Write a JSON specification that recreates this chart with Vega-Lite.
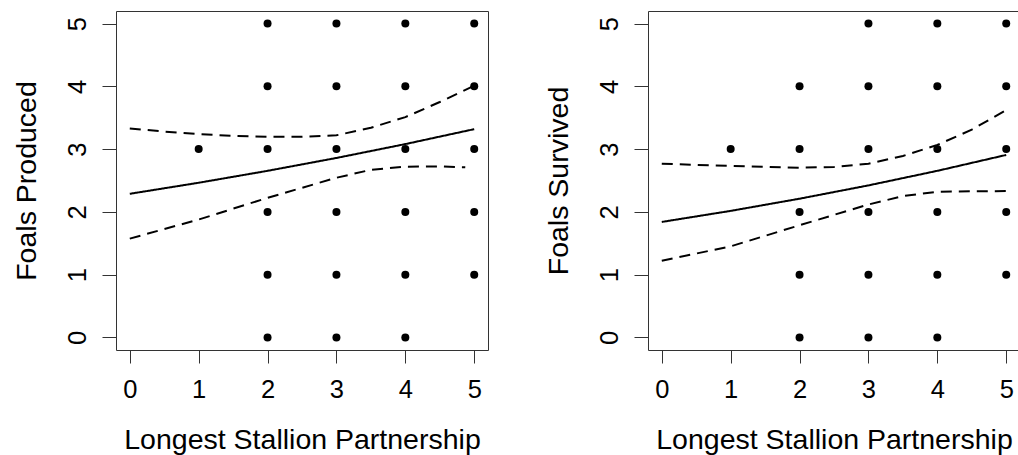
{
  "$schema": "https://vega.github.io/schema/vega-lite/v6.json",
  "background": "white",
  "padding": {"left": 11, "top": 10, "right": 0, "bottom": 0},
  "datasets": {
    "pts1": [
      {"x": 1, "y": 3},
      {"x": 2, "y": 0}, {"x": 2, "y": 1}, {"x": 2, "y": 2}, {"x": 2, "y": 3}, {"x": 2, "y": 4}, {"x": 2, "y": 5},
      {"x": 3, "y": 0}, {"x": 3, "y": 1}, {"x": 3, "y": 2}, {"x": 3, "y": 3}, {"x": 3, "y": 4}, {"x": 3, "y": 5},
      {"x": 4, "y": 0}, {"x": 4, "y": 1}, {"x": 4, "y": 2}, {"x": 4, "y": 3}, {"x": 4, "y": 4}, {"x": 4, "y": 5},
      {"x": 5, "y": 1}, {"x": 5, "y": 2}, {"x": 5, "y": 3}, {"x": 5, "y": 4}, {"x": 5, "y": 5}
    ],
    "pts2": [
      {"x": 1, "y": 3},
      {"x": 2, "y": 0}, {"x": 2, "y": 1}, {"x": 2, "y": 2}, {"x": 2, "y": 3}, {"x": 2, "y": 4},
      {"x": 3, "y": 0}, {"x": 3, "y": 1}, {"x": 3, "y": 2}, {"x": 3, "y": 3}, {"x": 3, "y": 4}, {"x": 3, "y": 5},
      {"x": 4, "y": 0}, {"x": 4, "y": 1}, {"x": 4, "y": 2}, {"x": 4, "y": 3}, {"x": 4, "y": 4}, {"x": 4, "y": 5},
      {"x": 5, "y": 1}, {"x": 5, "y": 2}, {"x": 5, "y": 3}, {"x": 5, "y": 4}, {"x": 5, "y": 5}
    ],
    "lines1": [
      {"series": "fit", "kind": "fit", "x": 0, "y": 2.288},
      {"series": "fit", "kind": "fit", "x": 1, "y": 2.464},
      {"series": "fit", "kind": "fit", "x": 2, "y": 2.654},
      {"series": "fit", "kind": "fit", "x": 3, "y": 2.859},
      {"series": "fit", "kind": "fit", "x": 4, "y": 3.080},
      {"series": "fit", "kind": "fit", "x": 5, "y": 3.318},
      {"series": "upper", "kind": "ci", "x": 0, "y": 3.33},
      {"series": "upper", "kind": "ci", "x": 0.5, "y": 3.28},
      {"series": "upper", "kind": "ci", "x": 1, "y": 3.24},
      {"series": "upper", "kind": "ci", "x": 1.5, "y": 3.21},
      {"series": "upper", "kind": "ci", "x": 2, "y": 3.195},
      {"series": "upper", "kind": "ci", "x": 2.5, "y": 3.195},
      {"series": "upper", "kind": "ci", "x": 3, "y": 3.22},
      {"series": "upper", "kind": "ci", "x": 3.5, "y": 3.34},
      {"series": "upper", "kind": "ci", "x": 4, "y": 3.51},
      {"series": "upper", "kind": "ci", "x": 4.5, "y": 3.75},
      {"series": "upper", "kind": "ci", "x": 5, "y": 4.01},
      {"series": "lower", "kind": "ci", "x": 0, "y": 1.574},
      {"series": "lower", "kind": "ci", "x": 1, "y": 1.878},
      {"series": "lower", "kind": "ci", "x": 2, "y": 2.224},
      {"series": "lower", "kind": "ci", "x": 3, "y": 2.544},
      {"series": "lower", "kind": "ci", "x": 3.5, "y": 2.67},
      {"series": "lower", "kind": "ci", "x": 4, "y": 2.72},
      {"series": "lower", "kind": "ci", "x": 4.5, "y": 2.725},
      {"series": "lower", "kind": "ci", "x": 4.87, "y": 2.71}
    ],
    "lines2": [
      {"series": "fit", "kind": "fit", "x": 0, "y": 1.84},
      {"series": "fit", "kind": "fit", "x": 1, "y": 2.016},
      {"series": "fit", "kind": "fit", "x": 2, "y": 2.21},
      {"series": "fit", "kind": "fit", "x": 3, "y": 2.422},
      {"series": "fit", "kind": "fit", "x": 4, "y": 2.654},
      {"series": "fit", "kind": "fit", "x": 5, "y": 2.907},
      {"series": "upper", "kind": "ci", "x": 0, "y": 2.768},
      {"series": "upper", "kind": "ci", "x": 1, "y": 2.731},
      {"series": "upper", "kind": "ci", "x": 2, "y": 2.704},
      {"series": "upper", "kind": "ci", "x": 2.5, "y": 2.715},
      {"series": "upper", "kind": "ci", "x": 3, "y": 2.768},
      {"series": "upper", "kind": "ci", "x": 3.5, "y": 2.891},
      {"series": "upper", "kind": "ci", "x": 4, "y": 3.067},
      {"series": "upper", "kind": "ci", "x": 4.5, "y": 3.31},
      {"series": "upper", "kind": "ci", "x": 5, "y": 3.622},
      {"series": "lower", "kind": "ci", "x": 0, "y": 1.222},
      {"series": "lower", "kind": "ci", "x": 1, "y": 1.451},
      {"series": "lower", "kind": "ci", "x": 2, "y": 1.787},
      {"series": "lower", "kind": "ci", "x": 3, "y": 2.118},
      {"series": "lower", "kind": "ci", "x": 3.5, "y": 2.251},
      {"series": "lower", "kind": "ci", "x": 4, "y": 2.32},
      {"series": "lower", "kind": "ci", "x": 4.5, "y": 2.33},
      {"series": "lower", "kind": "ci", "x": 5, "y": 2.331}
    ]
  },
  "spacing": 160,
  "bounds": "flush",
  "hconcat": [
    {
      "width": 372,
      "height": 339,
      "layer": [
        {
          "data": {"name": "lines1"},
          "mark": {"type": "line", "color": "black", "strokeWidth": 2, "clip": true},
          "encoding": {
            "x": {"field": "x", "type": "quantitative", "scale": {"domain": [-0.2, 5.2], "nice": false, "zero": false}, "axis": {"values": [0, 1, 2, 3, 4, 5], "format": "d", "title": "Longest Stallion Partnership"}},
            "y": {"field": "y", "type": "quantitative", "scale": {"domain": [-0.2, 5.2], "nice": false, "zero": false}, "axis": {"values": [0, 1, 2, 3, 4, 5], "format": "d", "title": "Foals Produced"}},
            "detail": {"field": "series"},
            "strokeDash": {"field": "kind", "type": "nominal", "scale": {"domain": ["fit", "ci"], "range": [[1, 0], [11, 7]]}, "legend": null}
          }
        },
        {
          "data": {"name": "pts1"},
          "mark": {"type": "circle", "color": "black", "opacity": 1, "size": 64},
          "encoding": {
            "x": {"field": "x", "type": "quantitative"},
            "y": {"field": "y", "type": "quantitative"}
          }
        }
      ]
    },
    {
      "width": 372,
      "height": 339,
      "layer": [
        {
          "data": {"name": "lines2"},
          "mark": {"type": "line", "color": "black", "strokeWidth": 2, "clip": true},
          "encoding": {
            "x": {"field": "x", "type": "quantitative", "scale": {"domain": [-0.2, 5.2], "nice": false, "zero": false}, "axis": {"values": [0, 1, 2, 3, 4, 5], "format": "d", "title": "Longest Stallion Partnership"}},
            "y": {"field": "y", "type": "quantitative", "scale": {"domain": [-0.2, 5.2], "nice": false, "zero": false}, "axis": {"values": [0, 1, 2, 3, 4, 5], "format": "d", "title": "Foals Survived"}},
            "detail": {"field": "series"},
            "strokeDash": {"field": "kind", "type": "nominal", "scale": {"domain": ["fit", "ci"], "range": [[1, 0], [11, 7]]}, "legend": null}
          }
        },
        {
          "data": {"name": "pts2"},
          "mark": {"type": "circle", "color": "black", "opacity": 1, "size": 64},
          "encoding": {
            "x": {"field": "x", "type": "quantitative"},
            "y": {"field": "y", "type": "quantitative"}
          }
        }
      ]
    }
  ],
  "config": {
    "view": {"stroke": "#333", "strokeWidth": 1},
    "axis": {
      "domain": false,
      "grid": false,
      "tickColor": "#333",
      "tickWidth": 1,
      "labelFont": "Liberation Sans",
      "labelFontSize": 25.5,
      "labelColor": "black",
      "labelFlush": false,
      "labelOverlap": false,
      "titleFont": "Liberation Sans",
      "titleFontSize": 28.5,
      "titleFontWeight": "normal",
      "titleColor": "black"
    },
    "axisX": {
      "tickSize": 13,
      "labelAngle": 0,
      "labelAlign": "center",
      "labelBaseline": "alphabetic",
      "labelPadding": 34.7,
      "titleX": 186,
      "titleY": 98.3,
      "titleAlign": "center",
      "titleBaseline": "alphabetic",
      "titleAngle": 0
    },
    "axisY": {
      "tickSize": 14,
      "labelAngle": 270,
      "labelAlign": "center",
      "labelBaseline": "alphabetic",
      "labelPadding": 17,
      "titleX": -81,
      "titleY": 169.5,
      "titleAngle": 270,
      "titleAlign": "center",
      "titleBaseline": "alphabetic"
    }
  }
}
